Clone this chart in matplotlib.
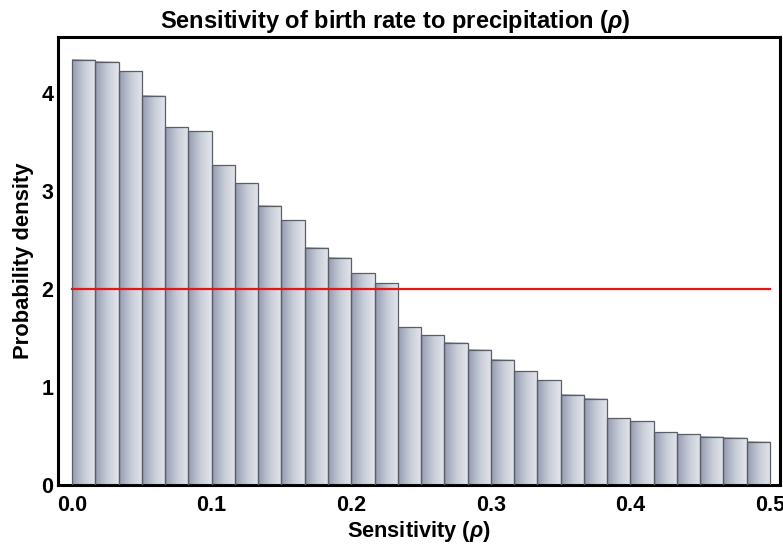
import numpy as np
import matplotlib
matplotlib.use("Agg")
import matplotlib.pyplot as plt
from matplotlib.colors import LinearSegmentedColormap

plt.rcParams['font.family'] = ['Liberation Sans', 'DejaVu Sans']
plt.rcParams['font.weight'] = 'bold'
plt.rcParams['mathtext.fontset'] = 'custom'
plt.rcParams['mathtext.it'] = 'Liberation Sans:italic:bold'
plt.rcParams['mathtext.rm'] = 'Liberation Sans:bold'

# Histogram (probability density), 30 bins from 0 to 0.5
bin_edges = np.linspace(0.0, 0.5, 31)
density = [4.34, 4.32, 4.22, 3.97, 3.65, 3.61, 3.26, 3.08, 2.85, 2.70,
           2.42, 2.32, 2.16, 2.06, 1.61, 1.53, 1.45, 1.38, 1.28, 1.16,
           1.07, 0.92, 0.88, 0.68, 0.65, 0.54, 0.52, 0.49, 0.48, 0.44]
ref_level = 2.0
ref_x = [0.0, 0.5]

x_ticks = [0.0, 0.1, 0.2, 0.3, 0.4, 0.5]
x_ticklabels = ['0.0', '0.1', '0.2', '0.3', '0.4', '0.5']
y_ticks = [0, 1, 2, 3, 4]

fig = plt.figure(figsize=(7.83, 5.48), dpi=100)
ax = fig.add_axes([58/783, 1-485/548, (780-58)/783, (485-37)/548])

widths = np.diff(bin_edges)
bars = ax.bar(bin_edges[:-1], density, width=widths, align='edge',
              facecolor='none', edgecolor='#5a5e66', linewidth=0.9, zorder=3)

cmap = LinearSegmentedColormap.from_list('g', ['#959cb1', '#c6cbd7', '#e4e6ec'])
grad = np.linspace(0, 1, 64).reshape(1, -1)
for b in bars:
    x0, y0 = b.get_x(), b.get_y()
    w, h = b.get_width(), b.get_height()
    ax.imshow(grad, cmap=cmap, aspect='auto', extent=[x0, x0 + w, y0, y0 + h],
              interpolation='bicubic', zorder=2)

ax.plot(ref_x, [ref_level, ref_level], color='#e8141a', linewidth=1.6, zorder=4)

ax.set_xlim(-0.0101, 0.5072)
ax.set_ylim(0, 4.57)
ax.set_xticks(x_ticks)
ax.set_xticklabels(x_ticklabels)
ax.set_yticks(y_ticks)
ax.tick_params(axis='both', length=0, labelsize=15.5)
ax.tick_params(axis='x', pad=7.5)
ax.tick_params(axis='y', pad=3.5)
for s in ax.spines.values():
    s.set_linewidth(2.2)
    s.set_color('black')

ax.set_xlabel(r'Sensitivity ($\rho$)', fontsize=15.7, fontweight='bold', labelpad=2)
ax.set_ylabel('Probability density', fontsize=15.8, fontweight='bold', labelpad=5)
fig.text(0.505, 0.985, r'Sensitivity of birth rate to precipitation ($\rho$)',
         ha='center', va='top', fontsize=17, fontweight='bold')

fig.savefig('out.png', dpi=100)
